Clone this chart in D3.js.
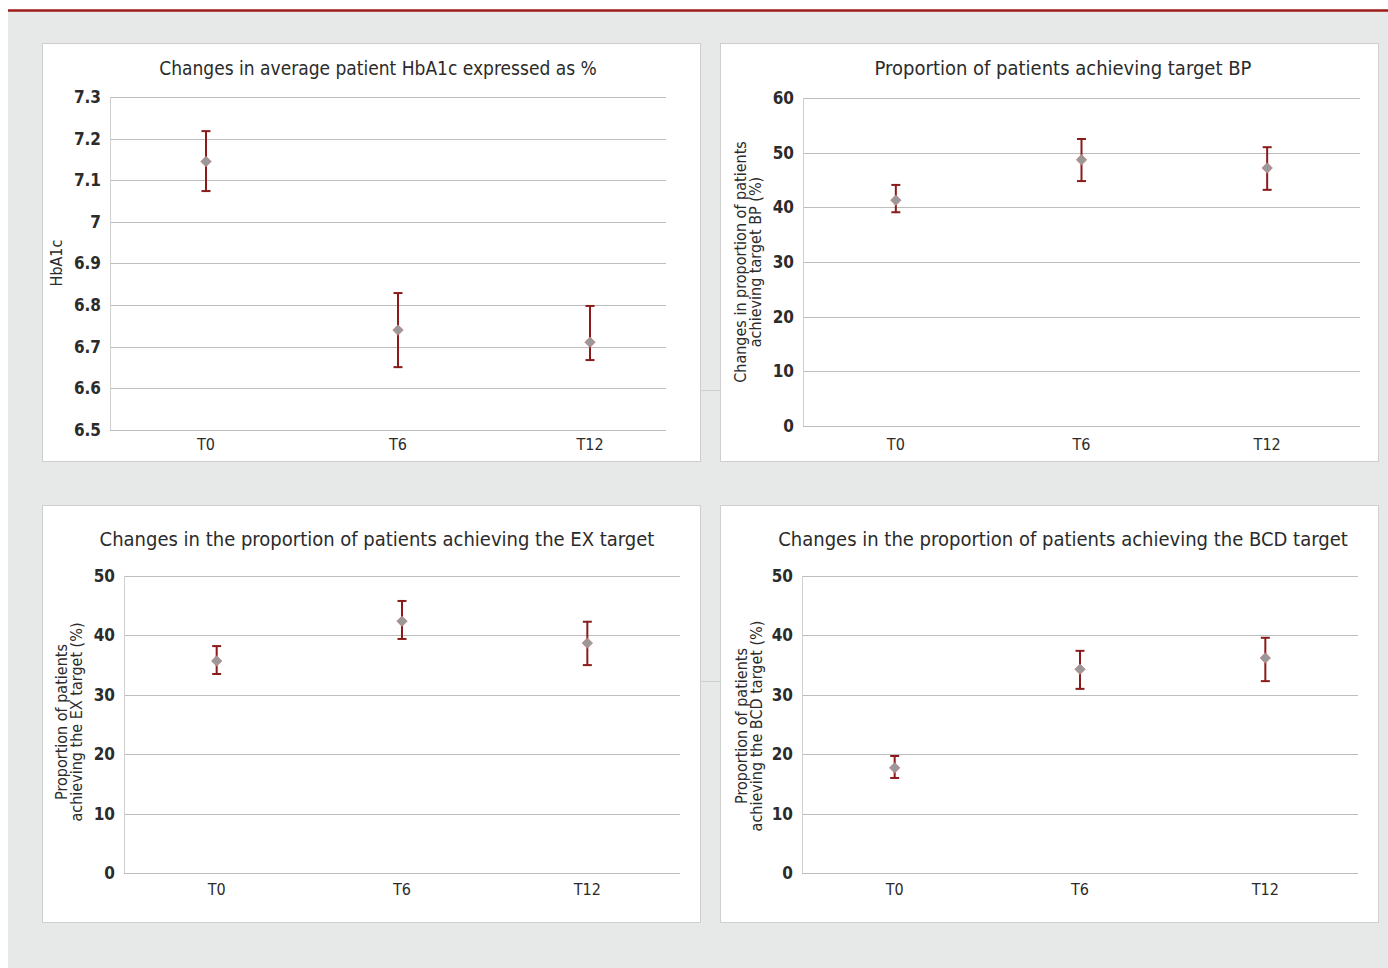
<!DOCTYPE html>
<html>
<head>
<meta charset="utf-8">
<script src="https://cdn.jsdelivr.net/npm/d3@7"></script>
<style>
  body { margin: 0; background: #fff; }
  svg text { font-family: "DejaVu Sans Condensed", "Liberation Sans Narrow", sans-serif; fill: #2b2b2b; }
</style>
</head>
<body>
<script>
// time points
var categories = ["T0", "T6", "T12"];

// HbA1c (%)
var hbaMean = [7.145, 6.74, 6.711];
var hbaLow = [7.074, 6.651, 6.668];
var hbaHigh = [7.218, 6.829, 6.798];
var hbaTicks = [6.5, 6.6, 6.7, 6.8, 6.9, 7, 7.1, 7.2, 7.3];

// target BP (%)
var bpMean = [41.3, 48.7, 47.2];
var bpLow = [39.1, 44.8, 43.2];
var bpHigh = [44.1, 52.5, 51.0];
var bpTicks = [0, 10, 20, 30, 40, 50, 60];

// EX target (%)
var exMean = [35.7, 42.4, 38.7];
var exLow = [33.5, 39.4, 35.0];
var exHigh = [38.2, 45.8, 42.3];

// BCD target (%)
var bcdMean = [17.7, 34.3, 36.2];
var bcdLow = [16.0, 31.0, 32.3];
var bcdHigh = [19.7, 37.4, 39.6];
var pctTicks = [0, 10, 20, 30, 40, 50];

var W = 1388, H = 968;
var svg = d3.select("body").append("svg").attr("width", W).attr("height", H);

// page background
svg.append("rect").attr("x", 8).attr("y", 11).attr("width", W - 8).attr("height", H - 11).attr("fill", "#e7e8e8");
svg.append("line").attr("x1", 8).attr("x2", W).attr("y1", 10.5).attr("y2", 10.5)
  .attr("stroke", "#9e1b1b").attr("stroke-width", 2.5);

// small connectors between panels
[390, 681].forEach(function(y) {
  svg.append("line").attr("x1", 700).attr("x2", 720).attr("y1", y + 0.5).attr("y2", y + 0.5)
    .attr("stroke", "#d0d0d0");
});

var panels = [
  {box: [42, 43, 658, 418], title: "Changes in average patient HbA1c expressed as %", titleX: 378, titleY: 68, titleSize: 19,
   mean: hbaMean, low: hbaLow, high: hbaHigh, ticks: hbaTicks, dom: [6.5, 7.3], fmt: d3.format(""),
   x0: 110, x1: 666, bandEnd: 686, y0: 430, y1: 97, labelX: 56, labelY: 263, label: ["HbA1c"], xLabY: 444},
  {box: [720, 43, 658, 418], title: "Proportion of patients achieving target BP", titleX: 1063, titleY: 68, titleSize: 20,
   mean: bpMean, low: bpLow, high: bpHigh, ticks: bpTicks, dom: [0, 60], fmt: d3.format("d"),
   x0: 803, x1: 1360, bandEnd: 1360, y0: 426, y1: 98, labelX: 740, labelY: 262,
   label: ["Changes in proportion of patients", "achieving target BP (%)"], xLabY: 444},
  {box: [42, 505, 658, 417], title: "Changes in the proportion of patients achieving the EX target", titleX: 377, titleY: 539, titleSize: 20,
   mean: exMean, low: exLow, high: exHigh, ticks: pctTicks, dom: [0, 50], fmt: d3.format("d"),
   x0: 124, x1: 680, bandEnd: 680, y0: 873, y1: 576, labelX: 61, labelY: 722,
   label: ["Proportion of patients", "achieving the EX target (%)"], xLabY: 889},
  {box: [720, 505, 658, 417], title: "Changes in the proportion of patients achieving the BCD target", titleX: 1063, titleY: 539, titleSize: 20,
   mean: bcdMean, low: bcdLow, high: bcdHigh, ticks: pctTicks, dom: [0, 50], fmt: d3.format("d"),
   x0: 802, x1: 1358, bandEnd: 1358, y0: 873, y1: 576, labelX: 741, labelY: 726,
   label: ["Proportion of patients", "achieving the BCD target (%)"], xLabY: 889}
];

panels.forEach(function(p) {
  var g = svg.append("g");
  g.append("rect").attr("x", p.box[0] + 0.5).attr("y", p.box[1] + 0.5)
    .attr("width", p.box[2]).attr("height", p.box[3])
    .attr("fill", "#fff").attr("stroke", "#cfcfcf");

  g.append("text").attr("x", p.titleX).attr("y", p.titleY).attr("dy", "0.35em")
    .attr("text-anchor", "middle").style("font-size", p.titleSize + "px").text(p.title);

  var y = d3.scaleLinear().domain(p.dom).range([p.y0, p.y1]);
  var x = d3.scaleBand().domain(categories).range([p.x0, p.bandEnd]);

  // gridlines
  g.selectAll(".grid").data(p.ticks).enter().append("line")
    .attr("x1", p.x0).attr("x2", p.x1)
    .attr("y1", function(d) { return Math.round(y(d)) + 0.5; })
    .attr("y2", function(d) { return Math.round(y(d)) + 0.5; })
    .attr("stroke", "#bdbdbd").attr("stroke-width", 1);
  g.append("line").attr("x1", p.x0 + 0.5).attr("x2", p.x0 + 0.5)
    .attr("y1", p.y1).attr("y2", p.y0).attr("stroke", "#cfcfcf");

  // y tick labels
  var yAxis = d3.axisLeft(y).tickValues(p.ticks).tickFormat(p.fmt).tickSize(0).tickPadding(9);
  var ya = g.append("g").attr("transform", "translate(" + p.x0 + ",0)").call(yAxis);
  ya.select(".domain").remove();
  ya.selectAll("text").style("font-size", "17px").style("font-weight", "bold").attr("fill", "#2b2b2b")
    .style("font-family", "\"DejaVu Sans Condensed\", sans-serif");

  // x tick labels
  var xAxis = d3.axisBottom(x).tickSize(0).tickPadding(0);
  var xa = g.append("g").attr("transform", "translate(0," + p.xLabY + ")").call(xAxis);
  xa.select(".domain").remove();
  xa.selectAll("text").attr("dy", "0.35em").style("font-size", "16px").attr("fill", "#222")
    .style("font-family", "\"DejaVu Sans Condensed\", sans-serif");

  // y axis title
  var lab = g.append("text").attr("transform", "translate(" + p.labelX + "," + p.labelY + ") rotate(-90)")
    .attr("text-anchor", "middle").style("font-size", "16px");
  p.label.forEach(function(s, i) {
    lab.append("tspan").attr("x", 0).attr("dy", i === 0 ? "0.35em" : "0.95em").text(s);
  });

  // error bars
  var cx = function(i) { return x(categories[i]) + x.bandwidth() / 2; };
  var pts = g.selectAll(".pt").data(p.mean).enter().append("g");
  pts.append("line")
    .attr("x1", function(d, i) { return cx(i); }).attr("x2", function(d, i) { return cx(i); })
    .attr("y1", function(d, i) { return y(p.low[i]); }).attr("y2", function(d, i) { return y(p.high[i]); })
    .attr("stroke", "#8b1a1a").attr("stroke-width", 2);
  [p.low, p.high].forEach(function(arr) {
    pts.append("line")
      .attr("x1", function(d, i) { return cx(i) - 4.5; }).attr("x2", function(d, i) { return cx(i) + 4.5; })
      .attr("y1", function(d, i) { return y(arr[i]); }).attr("y2", function(d, i) { return y(arr[i]); })
      .attr("stroke", "#8b1a1a").attr("stroke-width", 2);
  });
  pts.append("path")
    .attr("d", d3.symbol(d3.symbolDiamond2, 70))
    .attr("transform", function(d, i) { return "translate(" + cx(i) + "," + y(d) + ")"; })
    .attr("fill", "#999").attr("stroke", "#c97a7a").attr("stroke-width", 0.7);
});
</script>
</body>
</html>
